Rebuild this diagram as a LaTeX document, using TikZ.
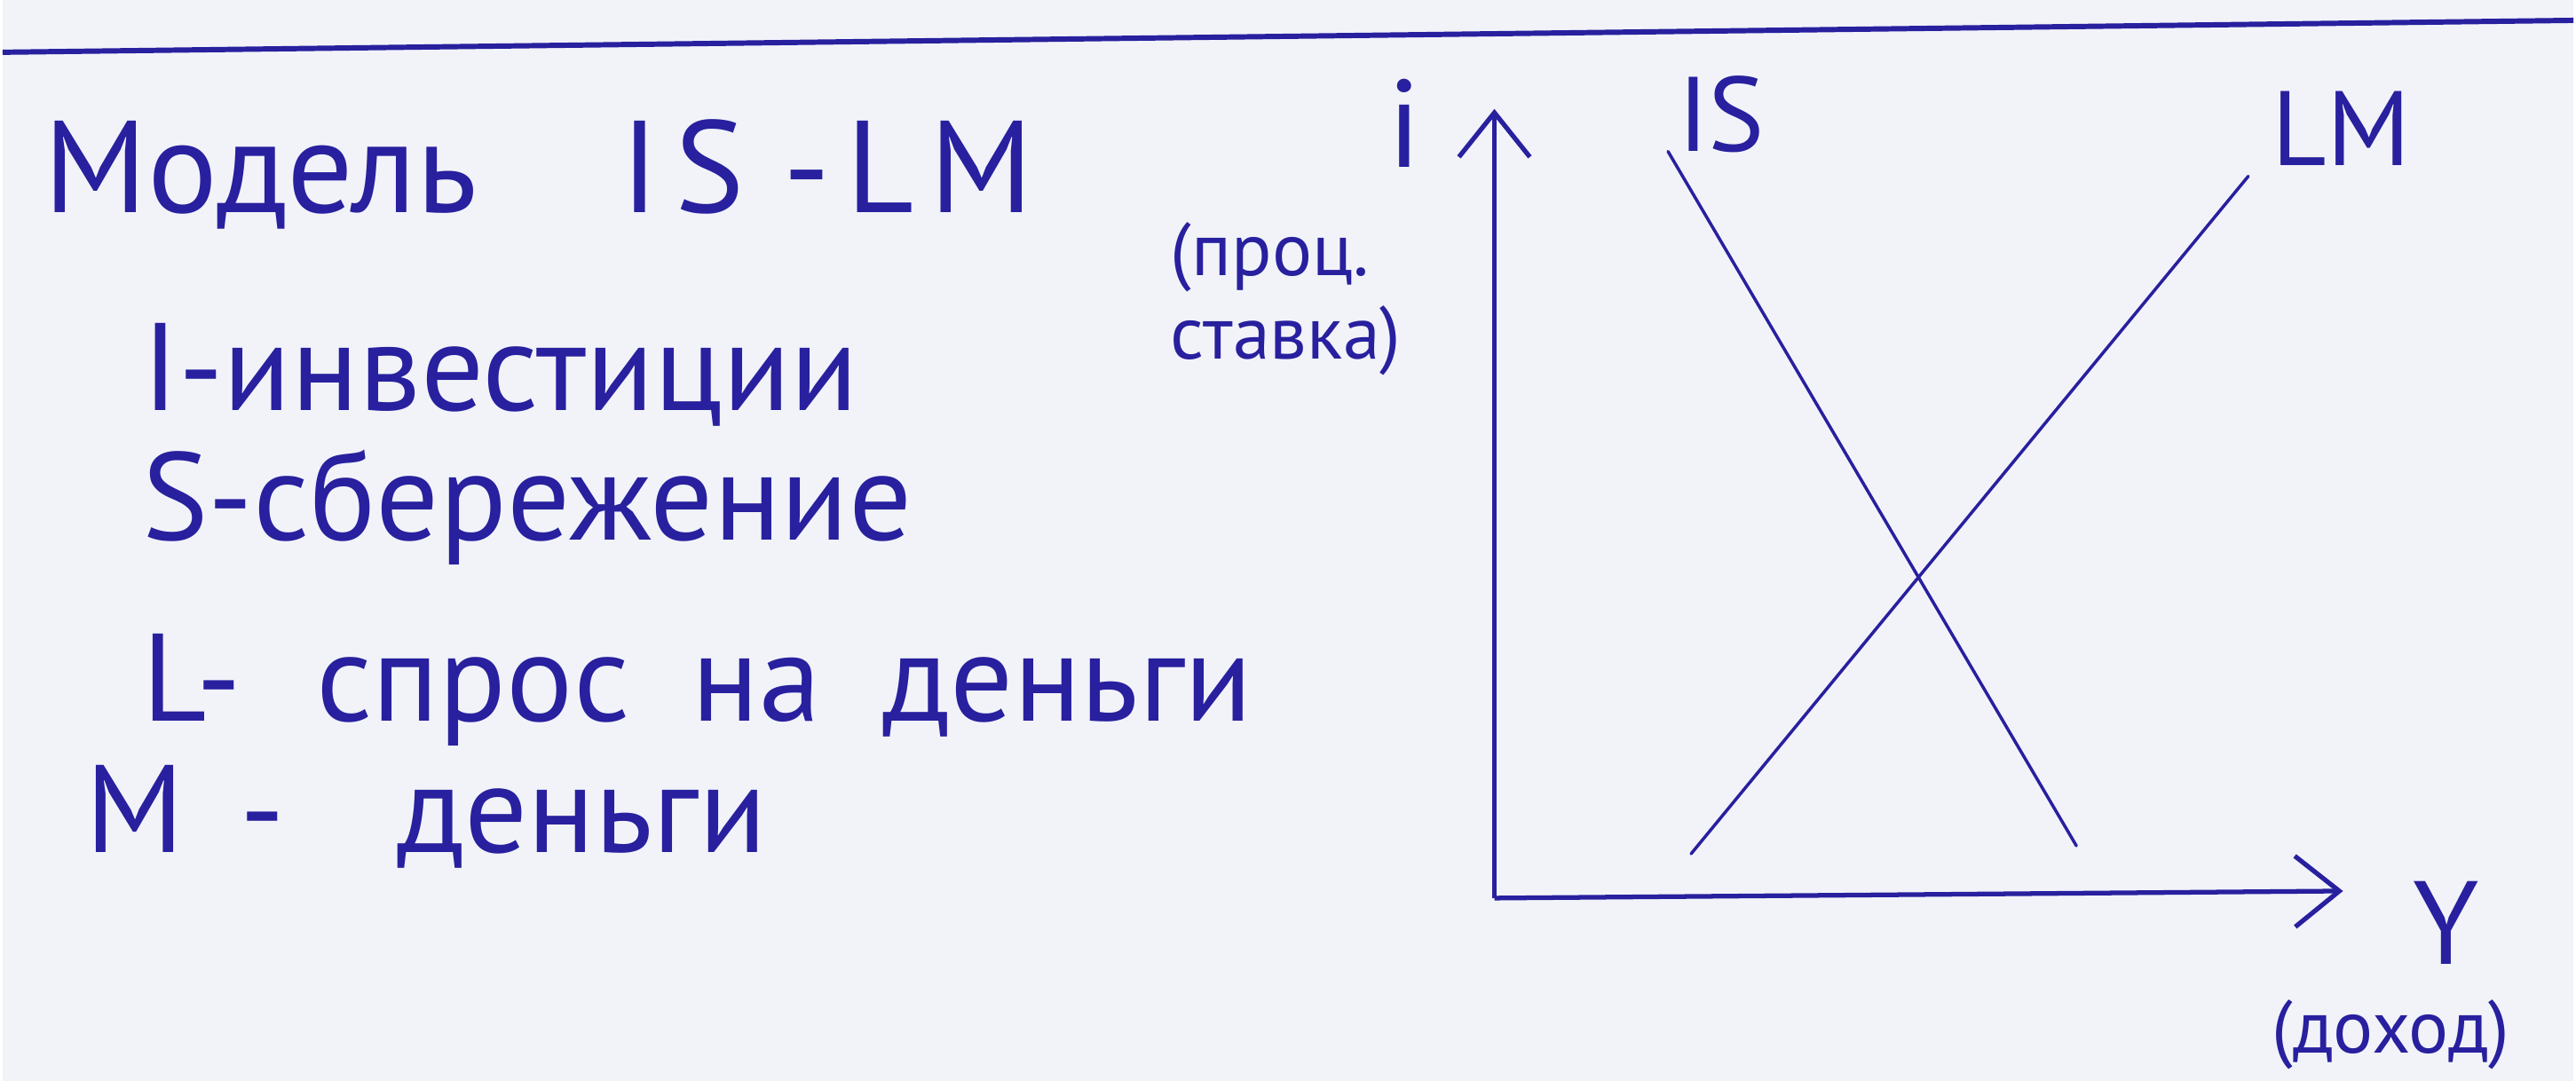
\documentclass[tikz,border=0pt]{standalone}
\usepackage{fontspec}
\setmainfont{PT Sans}
\usetikzlibrary{arrows.meta,positioning,calc}
\definecolor{inkblue}{RGB}{40,32,158}
\definecolor{paper}{RGB}{241,243,249}
\tikzset{
  % handwritten notes on the left
  notetxt/.style={inkblue, anchor=base west, inner sep=0pt,
    font=\fontsize{40}{44}\selectfont},
  % the ruled line at the top of the sheet
  ruleln/.style={line width=1.7pt, inkblue},
  % axes of the graph
  axisln/.style={-{Straight Barb[length=5mm,width=8mm]}, line width=1.5pt, inkblue},
  % IS and LM lines
  curveln/.style={line width=1pt, inkblue, line cap=round},
  curvelbl/.style={inkblue, inner sep=0pt, font=\fontsize{34}{38}\selectfont},
  % small axis captions
  axiscap/.style={inkblue, inner sep=0pt, font=\fontsize{24}{27}\selectfont},
}

\begin{document}
\begin{tikzpicture}
    % sheet
    \fill[paper] (0,0) rectangle (29.02,12.20);
    \draw[ruleln] (0,11.61) -- (29.02,11.97);
    % notes
    \node[notetxt, font=\fontsize{42}{46}\selectfont] (title) at (0.46,9.80)
      {Модель\hspace{1.1em}I\hspace{0.12em}S\hspace{0.3em}-\hspace{0.12em}L\hspace{0.12em}M};
    \node[notetxt] (nI) at (1.57,7.57) {I-инвестиции};
    \node[notetxt] (nS) at (1.57,6.10) {S-сбережение};
    \node[notetxt] (nL) at (1.57,4.06) {L-\hspace{0.6em}спрос\hspace{0.5em}на\hspace{0.5em}деньги};
    \node[notetxt] (nM) at (0.93,2.58) {M\hspace{0.45em}-\hspace{0.9em}деньги};
    % axes
    \coordinate (O) at (16.84,2.06);
    \coordinate (ytip) at (16.84,10.97);
    \coordinate (xtip) at (26.42,2.14);
    \draw[axisln] (O) -- (ytip);
    \draw[axisln] (O) -- (xtip);
    \node[inkblue, inner sep=0pt, font=\fontsize{40}{44}\selectfont] (ilbl) at (15.83,10.81) {i};
    \node[axiscap, align=left, anchor=north west] (rate) at (13.18,9.70) {(проц.\\ставка)};
    \node[inkblue, inner sep=0pt, font=\fontsize{38}{42}\selectfont] (ylbl) at (27.58,1.78) {Y};
    \node[axiscap] (income) at (26.96,0.52) {(доход)};
    % IS and LM
    \coordinate (IStop) at (18.80,10.49);
    \coordinate (ISbot) at (23.41,2.65);
    \coordinate (LMbot) at (19.06,2.56);
    \coordinate (LMtop) at (25.35,10.21);
    \draw[curveln] (IStop) -- (ISbot);
    \draw[curveln] (LMbot) -- (LMtop);
    \node[curvelbl] (islbl) at (19.40,10.91) {IS};
    \node[curvelbl] (lmlbl) at (26.40,10.75) {LM};
  \end{tikzpicture}
\end{document}
